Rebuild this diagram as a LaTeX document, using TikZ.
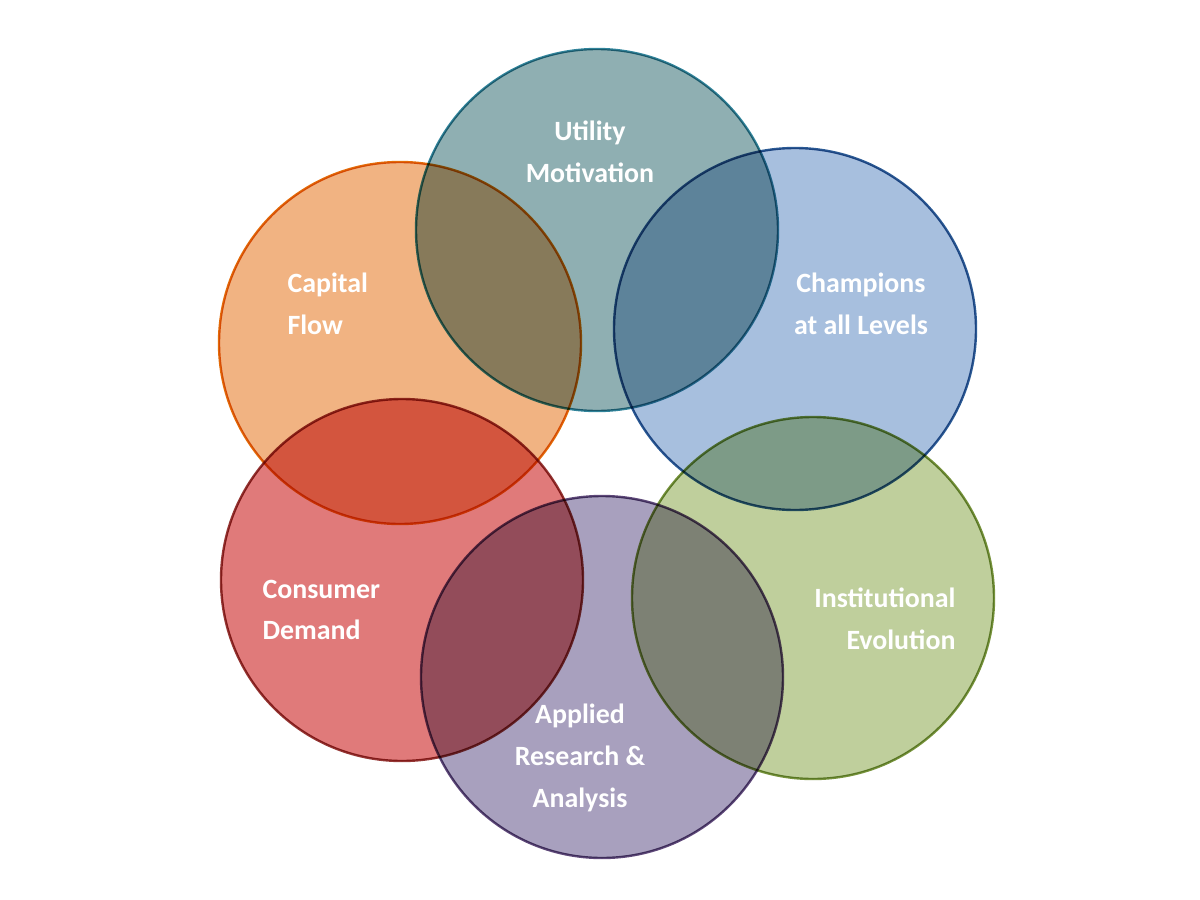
\documentclass[tikz,border=0pt]{standalone}
\usepackage{fontspec}
\setmainfont{Carlito}
\definecolor{ringFillA}{HTML}{8FAFB2}
\definecolor{ringFillB}{HTML}{A7BFDE}
\definecolor{ringFillC}{HTML}{BFCF9C}
\definecolor{ringFillD}{HTML}{A8A0BE}
\definecolor{ringFillE}{HTML}{E07A7A}
\definecolor{ringFillF}{HTML}{F1B382}
\definecolor{ringLineA}{HTML}{31849B}
\definecolor{ringLineB}{HTML}{2C5B95}
\definecolor{ringLineC}{HTML}{77933C}
\definecolor{ringLineD}{HTML}{5F497A}
\definecolor{ringLineE}{HTML}{953735}
\definecolor{ringLineF}{HTML}{E36C09}
\tikzset{
  ring/.style={circle, minimum size=362bp, inner sep=0pt, line width=2.4bp},
  caption/.style={text=white, font=\bfseries\fontsize{28}{42}\selectfont}
}
\begin{document}
\begin{tikzpicture}[x=1bp,y=-1bp]
\useasboundingbox (0,0) rectangle (1200,900);

% circles
\begin{scope}[blend group=multiply]
\node[ring, draw=ringLineF, fill=ringFillF] (capital) at (400, 343) {};
\node[ring, draw=ringLineE, fill=ringFillE] (consumer) at (402, 580) {};
\node[ring, draw=ringLineA, fill=ringFillA] (utility) at (597, 230) {};
\node[ring, draw=ringLineB, fill=ringFillB] (champions) at (795, 329) {};
\node[ring, draw=ringLineC, fill=ringFillC] (institution) at (813, 598) {};
\node[ring, draw=ringLineD, fill=ringFillD] (applied) at (602, 677) {};
\end{scope}

% labels
\node[caption, align=center] (utilityText) at (590, 152) {Utility\\Motivation};
\node[caption, align=left, anchor=west] (capitalText) at (284, 304) {Capital\\Flow};
\node[caption, align=center] (championsText) at (861, 304) {Champions\\at all Levels};
\node[caption, align=right, anchor=east] (institutionText) at (959, 619) {Institutional\\Evolution};
\node[caption, align=left, anchor=west] (consumerText) at (259, 610) {Consumer\\Demand};
\node[caption, align=center] (appliedText) at (580, 758) {Applied\\Research \&\\Analysis};
\end{tikzpicture}
\end{document}
